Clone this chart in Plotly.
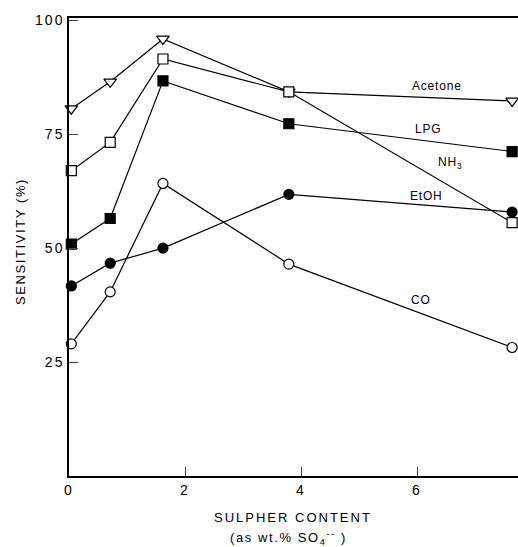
import plotly.graph_objects as go

sulphur = [0.04, 0.71, 1.62, 3.79, 7.64]
acetone = [80.6, 86.5, 95.9, 84.3, 82.3]
nh3 = [67.0, 73.2, 91.5, 84.3, 55.6]
lpg = [50.9, 56.5, 86.7, 77.3, 71.2]
etoh = [41.7, 46.7, 50.0, 61.8, 57.9]
co = [29.0, 40.4, 64.2, 46.5, 28.2]

x_ticks = [0, 2, 4, 6, 8]
x_tick_text = ["0", "2", "4", "6", "8"]
y_ticks = [25, 50, 75, 100]
y_tick_text = ["25", "50", "75", "100"]

series = [
    ("Acetone", acetone, "triangle-down", "white", 11),
    ("NH3", nh3, "square", "white", 10),
    ("LPG", lpg, "square", "black", 10),
    ("EtOH", etoh, "circle", "black", 10),
    ("CO", co, "circle", "white", 10),
]

fig = go.Figure()
for name, vals, sym, fillc, sz in series:
    fig.add_trace(go.Scatter(
        x=sulphur, y=vals, mode="lines+markers", name=name,
        line=dict(color="black", width=1.2),
        marker=dict(symbol=sym, size=sz, color=fillc,
                    line=dict(color="black", width=1.2)),
        cliponaxis=False,
    ))

font = "Liberation Sans, Arial, sans-serif"
W, H = 518, 547
L, R, T, B = 69, 0, 18, 71
pw, ph = W - L - R, H - T - B


def spaced(t, ls):
    return "<span style='letter-spacing:%spx'>%s</span>" % (ls, t)


labels = [
    ("Acetone", 437, 86),
    ("LPG", 428, 129),
    ("NH<sub>3</sub>", 450, 163),
    ("EtOH", 426, 196),
    ("CO", 421, 300),
]
ann = []
for t, px, py in labels:
    ann.append(dict(text=spaced(t, 0.8), x=(px - L) / pw, y=(H - B - py) / ph,
                    xref="paper", yref="paper", xanchor="center", yanchor="middle",
                    showarrow=False, font=dict(size=12, color="black", family=font)))
ann.append(dict(text=spaced("SENSITIVITY (%)", 1.6), x=(20 - L) / pw, y=(H - B - 242) / ph,
                xref="paper", yref="paper", xanchor="center", yanchor="middle",
                showarrow=False, textangle=-90,
                font=dict(size=13, color="black", family=font)))
ann.append(dict(text=spaced("SULPHER CONTENT", 2), x=(293 - L) / pw, y=(H - B - 517) / ph,
                xref="paper", yref="paper", xanchor="center", yanchor="middle",
                showarrow=False,
                font=dict(size=13, color="black", family=font)))
ann.append(dict(text=spaced("(as wt.% SO<sub>4</sub><sup>--</sup> )", 1.6),
                x=(288 - L) / pw, y=(H - B - 538) / ph,
                xref="paper", yref="paper", xanchor="center", yanchor="middle",
                showarrow=False,
                font=dict(size=13, color="black", family=font)))

fig.update_layout(
    width=W, height=H,
    margin=dict(l=L, r=R, t=T, b=B, autoexpand=False),
    paper_bgcolor="white", plot_bgcolor="white",
    showlegend=False,
    annotations=ann,
    font=dict(family=font, color="black", size=14),
)
fig.update_xaxes(range=[0, pw / 58.0], tickvals=x_ticks,
                 ticktext=[spaced(t, 2) for t in x_tick_text],
                 ticks="inside", ticklen=9,
                 showgrid=False, zeroline=False, showline=True, linecolor="black",
                 linewidth=1.5, mirror=True, tickfont=dict(size=14))
fig.update_yaxes(range=[0, 100.5], tickvals=y_ticks,
                 ticktext=[spaced(t, 2) for t in y_tick_text], ticks="inside",
                 ticklen=9, showgrid=False, zeroline=False, showline=True,
                 linecolor="black", linewidth=1.5, tickfont=dict(size=14))

fig.write_html("out.html", config={"displayModeBar": False},
               post_script="document.body.style.margin='0';document.body.style.overflow='hidden';")
